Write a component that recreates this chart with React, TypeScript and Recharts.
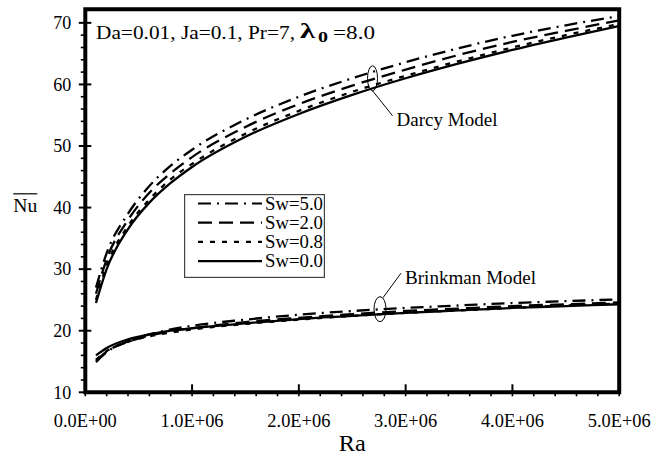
import React from 'react';
import {
  LineChart,
  Line,
  XAxis,
  YAxis,
  Legend,
  ReferenceArea,
  ReferenceDot,
  Customized,
} from 'recharts';

// Rayleigh numbers at which Nu was evaluated
const raValues = [1e5, 2e5, 4e5, 6e5, 8e5, 1e6, 1.5e6, 2e6, 2.5e6, 3e6, 3.5e6, 4e6, 4.5e6, 5e6];

// Darcy model, mean Nusselt number
const darcySw50 = [27.0, 32.6, 39.0, 43.5, 46.8, 49.4, 54.3, 58.0, 61.0, 63.6, 65.9, 67.9, 69.6, 71.1];
const darcySw20 = [26.0, 31.6, 38.0, 42.4, 45.6, 48.2, 53.1, 56.8, 59.8, 62.4, 64.8, 66.9, 68.7, 70.4];
const darcySw08 = [25.0, 30.6, 37.0, 41.3, 44.6, 47.1, 52.0, 55.7, 58.8, 61.4, 63.8, 66.0, 68.0, 69.8];
const darcySw00 = [24.5, 30.0, 36.5, 40.8, 44.0, 46.6, 51.5, 55.2, 58.3, 61.0, 63.4, 65.6, 67.6, 69.5];

// Brinkman model, mean Nusselt number
const brinkSw50 = [14.9, 16.5, 18.3, 19.4, 20.2, 20.8, 21.8, 22.6, 23.2, 23.7, 24.1, 24.5, 24.8, 25.1];
const brinkSw20 = [15.1, 16.6, 18.2, 19.2, 19.9, 20.4, 21.4, 22.1, 22.7, 23.2, 23.6, 24.0, 24.3, 24.6];
const brinkSw08 = [15.3, 16.7, 18.2, 19.1, 19.7, 20.2, 21.1, 21.8, 22.4, 22.9, 23.3, 23.7, 24.1, 24.4];
const brinkSw00 = [16.0, 17.2, 18.6, 19.4, 20.0, 20.4, 21.2, 21.9, 22.4, 22.9, 23.3, 23.7, 24.0, 24.3];

const swLabels = ['Sw=5.0', 'Sw=2.0', 'Sw=0.8', 'Sw=0.0'];

const xTicks = [
  0, 2e5, 4e5, 6e5, 8e5, 1e6, 1.2e6, 1.4e6, 1.6e6, 1.8e6, 2e6, 2.2e6, 2.4e6, 2.6e6, 2.8e6,
  3e6, 3.2e6, 3.4e6, 3.6e6, 3.8e6, 4e6, 4.2e6, 4.4e6, 4.6e6, 4.8e6, 5e6,
];
const yTicks = [
  10, 12, 14, 16, 18, 20, 22, 24, 26, 28, 30, 32, 34, 36, 38, 40, 42, 44, 46, 48, 50,
  52, 54, 56, 58, 60, 62, 64, 66, 68, 70,
];

const X_MAX = 5e6;
const Y_MIN = 10;
const Y_MAX = 72.2;

const FONT = '"Liberation Serif", "Times New Roman", Times, serif';

const rows = raValues.map((ra, i) => ({
  ra,
  d50: darcySw50[i],
  d20: darcySw20[i],
  d08: darcySw08[i],
  d00: darcySw00[i],
  b50: brinkSw50[i],
  b20: brinkSw20[i],
  b08: brinkSw08[i],
  b00: brinkSw00[i],
}));

// line style for each wall-suction value
const dashes: (string | undefined)[] = ['13 6 2 6', '14 7', '5 7', undefined];
const darcyKeys = ['d50', 'd20', 'd08', 'd00'];
const brinkKeys = ['b50', 'b20', 'b08', 'b00'];

// serif text fitted to a given width
const Txt = ({ x, y, w, size, anchor = 'start', children, weight = 'normal' }: any) => (
  <text
    x={x}
    y={y}
    textAnchor={anchor}
    textLength={w}
    lengthAdjust="spacingAndGlyphs"
    fill="#000"
    style={{ fontFamily: FONT, fontSize: size, fontWeight: weight }}
  >
    {children}
  </text>
);

const fmtSci = (v: number) => {
  if (v === 0) return '0.0E+00';
  const e = Math.floor(Math.log10(v));
  const m = v / Math.pow(10, e);
  return `${m.toFixed(1)}E+${String(e).padStart(2, '0')}`;
};

const XTick = (props: any) => {
  const { x, y, payload } = props;
  const v = payload.value;
  const major = Math.abs(v / 1e6 - Math.round(v / 1e6)) < 1e-9;
  return (
    <g>
      <line x1={x} x2={x} y1={y} y2={y + 4} stroke="#000" strokeWidth={1.6} />
      {major && <line x1={x} x2={x} y1={y} y2={y - 8} stroke="#000" strokeWidth={2} />}
      {major && (
        <Txt x={x} y={y + 34.7} w={63} size={18} anchor="middle">
          {fmtSci(v)}
        </Txt>
      )}
    </g>
  );
};

const YTick = (props: any) => {
  const { x, y, payload } = props;
  const v = payload.value;
  const major = v % 10 === 0;
  return (
    <g>
      {major ? (
        <line x1={x - 6.5} x2={x + 6} y1={y} y2={y} stroke="#000" strokeWidth={2} />
      ) : (
        <line x1={x - 4.5} x2={x} y1={y} y2={y} stroke="#000" strokeWidth={1.6} />
      )}
      {major && (
        <Txt x={x - 14} y={y + 6.2} w={18} size={18} anchor="end">
          {v}
        </Txt>
      )}
    </g>
  );
};

const NuLabel = (props: any) => {
  const vb = props.viewBox || {};
  const cx = vb.x + vb.width - 60;
  const cy = vb.y + vb.height / 2;
  return (
    <g>
      <line x1={cx - 12} x2={cx + 12} y1={cy - 7} y2={cy - 7} stroke="#000" strokeWidth={1.2} />
      <Txt x={cx} y={cy + 11.5} w={24} size={19} anchor="middle">
        Nu
      </Txt>
    </g>
  );
};

const RaLabel = (props: any) => {
  const vb = props.viewBox || {};
  const cx = vb.x + vb.width / 2;
  return (
    <Txt x={cx} y={vb.y + 58.5} w={27} size={23} anchor="middle">
      Ra
    </Txt>
  );
};

const Title = () => (
  <g>
    <Txt x={96} y={39} w={199} size={19.5}>
      Da=0.01, Ja=0.1, Pr=7,
    </Txt>
    <Txt x={300} y={38} w={15} size={22} weight="bold">
      λ
    </Txt>
    <Txt x={318} y={42} w={10} size={15} weight="bold">
      0
    </Txt>
    <Txt x={333} y={39} w={42} size={19.5}>
      =8.0
    </Txt>
  </g>
);

const darcyMarker = (props: any) => {
  const { cx, cy } = props;
  return (
    <g>
      <ellipse cx={cx} cy={cy} rx={5} ry={12.5} fill="none" stroke="#000" strokeWidth={1} />
      <line x1={cx} y1={cy + 12.5} x2={cx + 20} y2={cy + 37.5} stroke="#000" strokeWidth={1} />
      <Txt x={cx + 24} y={cy + 47.5} w={101} size={19}>
        Darcy Model
      </Txt>
    </g>
  );
};

const brinkMarker = (props: any) => {
  const { cx, cy } = props;
  return (
    <g>
      <ellipse cx={cx} cy={cy} rx={6} ry={12.5} fill="none" stroke="#000" strokeWidth={1} />
      <line x1={cx + 3} y1={cy - 11.5} x2={cx + 21} y2={cy - 36} stroke="#000" strokeWidth={1} />
      <Txt x={cx + 25} y={cy - 25} w={131} size={19}>
        Brinkman Model
      </Txt>
    </g>
  );
};

const LegendBox = (props: any) => {
  const entries = (props.payload || [])
    .filter((e: any) => e.type !== 'none' && darcyKeys.includes(e.dataKey))
    .slice()
    .sort((a: any, b: any) => darcyKeys.indexOf(a.dataKey) - darcyKeys.indexOf(b.dataKey));
  return (
    <svg width={141} height={84} style={{ display: 'block' }}>
      <rect x={0.6} y={0.6} width={139.8} height={82.8} fill="#fff" stroke="#444" strokeWidth={1.2} />
      {entries.map((e: any, i: number) => (
        <g key={e.dataKey}>
          <line
            x1={14}
            x2={78}
            y1={9.5 + 19.2 * i}
            y2={9.5 + 19.2 * i}
            stroke="#000"
            strokeWidth={2.2}
            strokeDasharray={dashes[darcyKeys.indexOf(e.dataKey)]}
          />
          <Txt x={81} y={15.8 + 19.2 * i} w={58} size={18.5}>
            {e.value}
          </Txt>
        </g>
      ))}
    </svg>
  );
};

export default function App() {
  return (
    <div style={{ position: 'absolute', left: 0, top: 0, width: 666, height: 457, background: '#fff' }}>
      <LineChart
        width={666}
        height={457}
        data={rows}
        margin={{ top: 9.3, right: 46.8, bottom: 63.7, left: 84.3 }}
      >
        <XAxis
          type="number"
          dataKey="ra"
          domain={[0, X_MAX]}
          ticks={xTicks}
          interval={0}
          height={1}
          axisLine={false}
          tickLine={false}
          tickSize={0}
          tickMargin={0}
          tick={XTick}
          allowDataOverflow
          label={{ content: RaLabel }}
        />
        <YAxis
          type="number"
          domain={[Y_MIN, Y_MAX]}
          ticks={yTicks}
          interval={0}
          width={1}
          axisLine={false}
          tickLine={false}
          tickSize={0}
          tickMargin={0}
          tick={YTick}
          allowDataOverflow
          label={{ content: NuLabel }}
        />
        {darcyKeys.map((k, i) => (
          <Line
            key={k}
            dataKey={k}
            name={swLabels[i]}
            type="monotone"
            stroke="#000"
            strokeWidth={2.3}
            strokeDasharray={dashes[i]}
            dot={false}
            activeDot={false}
            isAnimationActive={false}
          />
        ))}
        {brinkKeys.map((k, i) => (
          <Line
            key={k}
            dataKey={k}
            name={swLabels[i] + ' (Brinkman)'}
            legendType="none"
            type="monotone"
            stroke="#000"
            strokeWidth={2.3}
            strokeDasharray={dashes[i]}
            dot={false}
            activeDot={false}
            isAnimationActive={false}
          />
        ))}
        <ReferenceArea
          x1={0}
          x2={X_MAX}
          y1={Y_MIN}
          y2={Y_MAX}
          fill="none"
          fillOpacity={0}
          stroke="#000"
          strokeWidth={4}
          ifOverflow="visible"
        />
        <ReferenceDot x={2.69e6} y={61} r={0} shape={darcyMarker} ifOverflow="visible" />
        <ReferenceDot x={2.76e6} y={23.5} r={0} shape={brinkMarker} ifOverflow="visible" />
        <Customized component={Title} />
        <Legend
          layout="vertical"
          align="center"
          verticalAlign="middle"
          content={LegendBox}
          wrapperStyle={{ left: 184, top: 194, width: 141, height: 84 }}
        />
      </LineChart>
    </div>
  );
}
